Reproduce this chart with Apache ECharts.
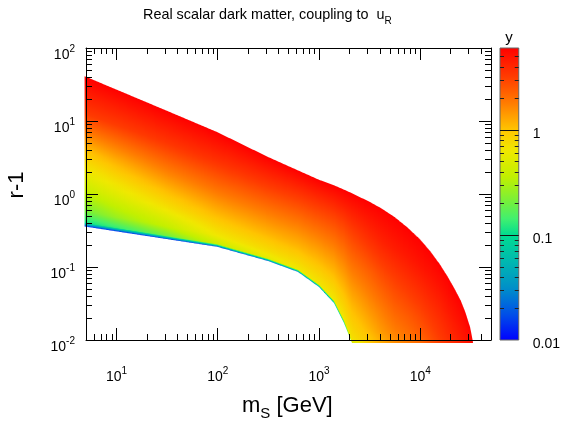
<!DOCTYPE html>
<html><head><meta charset="utf-8">
<script src="https://cdn.jsdelivr.net/npm/echarts@6/dist/echarts.min.js"></script>
<style>html,body{margin:0;padding:0;background:#fff}#c{width:563px;height:421px}</style>
</head><body><div id="c"></div>
<script>
// ---- data ----
// x: log10(m_S / GeV) columns of the allowed region
const massLog  = [0.685, 0.995, 1.499, 1.993, 2.497, 2.793, 3.0, 3.148, 3.247, 3.326, 3.504, 3.62, 3.751, 3.875, 3.998, 4.10, 4.195, 4.27, 4.344, 4.40, 4.443, 4.492, 4.521];
// log10(r-1) of the upper and lower edge of the region at those columns
const upperLog = [1.613, 1.433, 1.139, 0.849, 0.507, 0.323, 0.195, 0.12, 0.06, 0.01, -0.11, -0.20, -0.32, -0.46, -0.62, -0.785, -0.965, -1.13, -1.31, -1.46, -1.61, -1.82, -2.03];
const lowerLog = [-0.445, -0.511, -0.618, -0.723, -0.918, -1.068, -1.274, -1.493, -1.767, -2.04, -2.04, -2.04, -2.04, -2.04, -2.04, -2.04, -2.04, -2.04, -2.04, -2.04, -2.04, -2.04, -2.04];
// positions between lower (0) and upper (1) edge at which the coupling y is read
const fLevels = [0, 0.025, 0.1, 0.25, 0.5, 0.75, 1];
// coupling y per column at those positions
const yFrac = [
  [0.013, 0.11, 0.2, 0.4, 0.98, 3.2, 6.0],
  [0.013, 0.13, 0.27, 0.5, 1.2, 3.2, 6.0],
  [0.014, 0.2, 0.38, 0.71, 1.6, 3.4, 6.0],
  [0.016, 0.4, 0.64, 1.0, 1.95, 3.6, 6.0],
  [0.02, 0.55, 0.74, 1.1, 1.95, 3.45, 6.0],
  [0.025, 0.63, 0.77, 1.12, 1.9, 3.3, 6.0],
  [0.03, 0.66, 0.78, 1.1, 1.86, 3.2, 6.0],
  [0.05, 0.64, 0.77, 1.08, 1.82, 3.12, 6.0],
  [0.08, 0.64, 0.78, 1.08, 1.8, 3.08, 6.0],
  [0.45, 0.7, 0.82, 1.1, 1.85, 3.15, 6.0],
  [0.98, 0.98, 1.15, 1.5, 2.3, 3.8, 6.0],
  [1.25, 1.25, 1.45, 1.8, 2.7, 4.2, 6.0],
  [1.55, 1.55, 1.78, 2.2, 3.1, 4.5, 6.0],
  [1.8, 1.8, 2.05, 2.45, 3.4, 4.7, 6.0],
  [2.1, 2.1, 2.4, 2.8, 3.7, 4.9, 6.0],
  [2.6, 2.6, 2.8, 3.2, 4.0, 5.0, 6.0],
  [3.1, 3.1, 3.3, 3.6, 4.25, 5.1, 6.0],
  [3.5, 3.5, 3.7, 4.0, 4.6, 5.25, 6.0],
  [3.9, 3.9, 4.1, 4.4, 4.9, 5.4, 6.0],
  [4.3, 4.3, 4.5, 4.7, 5.1, 5.5, 6.0],
  [4.7, 4.7, 4.8, 5.0, 5.2, 5.6, 6.0],
  [5.1, 5.1, 5.2, 5.3, 5.5, 5.8, 6.0],
  [5.6, 5.6, 5.6, 5.7, 5.8, 5.9, 6.0]
];

// axes
const xMinMass = 5, xMaxMass = 50000;
const xTickExp = [1, 2, 3, 4];
const yTickExp = [-2, -1, 0, 1, 2];
const cbMinY = 0.01, cbMaxY = 6.0;
const cbTickLog = [-2, -1, 0];
const cbTickLabels = ['0.01', '0.1', '1'];

// colour palette of the z-axis (log10 y -> colour)
const paletteStops = [
  [-2.0, '#0000ff'], [-1.75, '#0050e8'], [-1.5, '#0090c8'], [-1.25, '#00b8b0'],
  [-1.0, '#00dc90'], [-0.85, '#40f070'], [-0.7, '#70f040'], [-0.45, '#c0f000'],
  [-0.2, '#f0e800'], [0.0, '#ffc400'], [0.25, '#ff7c00'], [0.5, '#ff3c00'], [0.78, '#ff0000']
];

// ---- helpers ----
const L10 = Math.log10;
const X_MIN = L10(xMinMass), X_MAX = L10(xMaxMass);
const CB_MIN = L10(cbMinY), CB_MAX = L10(cbMaxY);
const clamp01 = v => Math.min(1, Math.max(0, v));
function hexRgb(h){return [parseInt(h.substr(1,2),16),parseInt(h.substr(3,2),16),parseInt(h.substr(5,2),16)];}
const palRgb = paletteStops.map(p => [p[0], hexRgb(p[1])]);
function logToColor(l){
  const P = palRgb;
  if (l <= P[0][0]) l = P[0][0];
  if (l >= P[P.length-1][0]) l = P[P.length-1][0];
  for (let i = 1; i < P.length; i++) {
    if (l <= P[i][0]) {
      const t = (l - P[i-1][0]) / (P[i][0] - P[i-1][0]);
      const a = P[i-1][1], b = P[i][1];
      return 'rgb(' + Math.round(a[0]+(b[0]-a[0])*t) + ',' + Math.round(a[1]+(b[1]-a[1])*t) + ',' + Math.round(a[2]+(b[2]-a[2])*t) + ')';
    }
  }
  return paletteStops[paletteStops.length-1][1];
}
const lerp = (a, b, t) => a + (b - a) * t;

const GR_TOP = 2.0, GR_BOT = -2.1;
function renderRegion(params, api){
  const i = params.dataIndex, j = i + 1;
  if (j >= massLog.length) return;
  const pA = api.coord([massLog[i], 0])[0], pB = api.coord([massLog[j], 0])[0];
  const yTopPx = api.coord([X_MIN, GR_TOP])[1], yBotPx = api.coord([X_MIN, GR_BOT])[1];
  const children = [];
  // whole-pixel columns whose centre lies in [pA, pB)
  const xStart = (i === 0) ? Math.floor(pA) : Math.ceil(pA - 0.5);
  const xEnd = (j === massLog.length - 1) ? Math.ceil(pB) : Math.ceil(pB - 0.5);
  for (let x = xStart; x < xEnd; x++) {
    const xa = x, xb = x + 1;
    const t0 = (xa - pA) / (pB - pA), t1 = (xb - pA) / (pB - pA);
    const tm = Math.min(1, Math.max(0, (x + 0.5 - pA) / (pB - pA)));
    const m0 = lerp(massLog[i], massLog[j], t0), m1 = lerp(massLog[i], massLog[j], t1);
    let u0 = lerp(upperLog[i], upperLog[j], t0), u1 = lerp(upperLog[i], upperLog[j], t1);
    let d0 = lerp(lowerLog[i], lowerLog[j], t0), d1 = lerp(lowerLog[i], lowerLog[j], t1);
    if (i === 0 && t0 < 0) { u0 = upperLog[0]; d0 = lowerLog[0]; }
    if (j === massLog.length - 1 && t1 > 1) { u1 = upperLog[j]; d1 = lowerLog[j]; }
    const yu0 = api.coord([m0, u0])[1], yu1 = api.coord([m1, u1])[1];
    const yd0 = api.coord([m0, d0])[1], yd1 = api.coord([m1, d1])[1];
    const xl = (i === 0 && x === xStart) ? pA : xa;
    const xr = (j === massLog.length - 1 && x === xEnd - 1) ? pB : xb;
    const loM = lerp(lowerLog[i], lowerLog[j], tm), upM = lerp(upperLog[i], upperLog[j], tm);
    const pts = fLevels.map((f, q) => [loM + f * (upM - loM), lerp(L10(yFrac[i][q]), L10(yFrac[j][q]), tm)]);
    const dense = [];
    for (let p = 0; p < pts.length - 1; p++) {
      for (let s = 0; s < 6; s++) {
        dense.push([lerp(pts[p][0], pts[p+1][0], s/6), lerp(pts[p][1], pts[p+1][1], s/6)]);
      }
    }
    dense.push(pts[pts.length-1]);
    const stops = dense.map(q => ({offset: clamp01((GR_TOP - q[0]) / (GR_TOP - GR_BOT)), color: logToColor(q[1])}))
      .sort((a, b) => a.offset - b.offset);
    const xm = x + 0.5;
    children.push({
      type: 'polygon',
      shape: {points: [[xl, yu0], [xr, yu1], [xr, yd1], [xl, yd0]]},
      style: {fill: {type: 'linear', x: xm, y: yTopPx, x2: xm, y2: yBotPx, global: true, colorStops: stops}}
    });
  }
  return {type: 'group', children: children};
}

function renderColorBar(params, api){
  const tl = api.coord([0, CB_MAX]), br = api.coord([1, CB_MIN]);
  const w = br[0] - tl[0], h = br[1] - tl[1];
  const dense = [];
  for (let q = 0; q <= 120; q++) { const l = lerp(CB_MIN, CB_MAX, q / 120); dense.push({offset: clamp01((CB_MAX - l) / (CB_MAX - CB_MIN)), color: logToColor(l)}); }
  dense.sort((x, y) => x.offset - y.offset);
  const ch = [{type: 'rect', shape: {x: tl[0], y: tl[1], width: w, height: h},
    style: {fill: {type: 'linear', x: 0, y: 0, x2: 0, y2: 1, colorStops: dense}, stroke: '#666', lineWidth: 1}}];
  for (const l of [-1, 0]) {
    const y = Math.round(api.coord([0, l])[1]) + 0.5;
    ch.push({type: 'line', shape: {x1: tl[0], y1: y, x2: br[0], y2: y}, style: {stroke: '#111', lineWidth: 1}});
  }
  for (let dec = -2; dec <= 0; dec++) {
    for (let kk = 2; kk <= 9; kk++) {
      const l = dec + L10(kk);
      if (l >= CB_MAX) continue;
      const y = Math.round(api.coord([0, l])[1]) + 0.5;
      ch.push({type: 'line', shape: {x1: tl[0], y1: y, x2: tl[0] + 4, y2: y}, style: {stroke: '#222', lineWidth: 1}});
      ch.push({type: 'line', shape: {x1: br[0] - 4, y1: y, x2: br[0], y2: y}, style: {stroke: '#222', lineWidth: 1}});
    }
  }
  return {type: 'group', children: ch};
}

// tick positions
const xMinor = [], yMinor = [];
for (let dcd = 0; dcd <= 4; dcd++) for (let kk = 2; kk <= 9; kk++) { const v = dcd + L10(kk); if (v > X_MIN + 0.01 && v < X_MAX - 0.01) xMinor.push(v); }
for (let dcd = -2; dcd <= 1; dcd++) for (let kk = 2; kk <= 9; kk++) yMinor.push(dcd + L10(kk));

const FONT = 'Liberation Sans, Arial, sans-serif';
const supRich = {
  b: {fontSize: 14, lineHeight: 18, verticalAlign: 'bottom', fontFamily: FONT, color: '#000'},
  s: {fontSize: 10, lineHeight: 9, verticalAlign: 'top', fontFamily: FONT, color: '#000'}
};
const powFmt = v => '{b|10}{s|' + Math.round(v) + '}';

function axis(kind, pos, ticks, len, line, label){
  const o = {
    type: 'value', gridIndex: 0, position: pos, z: 5,
    min: kind === 'x' ? X_MIN : -2, max: kind === 'x' ? X_MAX : 2,
    axisLine: {show: line, onZero: false, lineStyle: {color: '#000', width: 1}},
    axisTick: {show: true, inside: true, length: len, customValues: ticks, lineStyle: {color: '#000', width: 1}},
    axisLabel: {show: false},
    splitLine: {show: false}
  };
  if (label) {
    o.axisLabel = kind === 'x'
      ? {show: true, customValues: ticks, formatter: powFmt, rich: supRich, margin: 26, verticalAlign: 'top'}
      : {show: true, customValues: ticks, formatter: powFmt, rich: supRich, margin: 11, padding: [10, 0, 0, 0]};
  }
  return o;
}

const chart = echarts.init(document.getElementById('c'), null, {renderer: 'canvas'});
chart.setOption({
  animation: false,
  backgroundColor: '#fff',
  grid: [
    {left: 86, top: 48, width: 405, height: 292},
    {left: 500, top: 48, width: 20, height: 292}
  ],
  xAxis: [
    axis('x', 'bottom', xTickExp, 12, true, true),
    axis('x', 'bottom', xMinor, 6, false, false),
    axis('x', 'top', xTickExp, 12, true, false),
    axis('x', 'top', xMinor, 6, false, false),
    {type: 'value', gridIndex: 1, min: 0, max: 1, show: false}
  ],
  yAxis: [
    axis('y', 'left', yTickExp, 12, true, true),
    axis('y', 'left', yMinor, 6, false, false),
    axis('y', 'right', yTickExp, 12, true, false),
    axis('y', 'right', yMinor, 6, false, false),
    {type: 'value', gridIndex: 1, position: 'right', min: CB_MIN, max: CB_MAX,
     axisLine: {show: false, onZero: false}, axisTick: {show: false}, splitLine: {show: false},
     axisLabel: {show: true, customValues: cbTickLog, margin: 14,
       formatter: v => '{v|' + cbTickLabels[cbTickLog.indexOf(Math.round(v))] + '}',
       rich: {v: {fontSize: 14, lineHeight: 14, padding: [8, 0, 0, 0], fontFamily: FONT, color: '#000'}}}}
  ],
  graphic: [
    {type: 'text', left: 143, top: 8, style: {
      text: '{a|Real scalar dark matter, coupling to  u}{r|R}',
      rich: {a: {fontSize: 14.4, lineHeight: 18, verticalAlign: 'top', fontFamily: FONT, fill: '#000'},
             r: {fontSize: 10, lineHeight: 10, verticalAlign: 'bottom', fontFamily: FONT, fill: '#000'}}}},
    {type: 'text', left: 242, top: 395, style: {
      text: '{a|m}{s|S}{a| [GeV]}',
      rich: {a: {fontSize: 22, lineHeight: 26, verticalAlign: 'top', fontFamily: FONT, fill: '#000'},
             s: {fontSize: 15, lineHeight: 8, verticalAlign: 'bottom', fontFamily: FONT, fill: '#000'}}}},
    {type: 'text', x: 17, y: 185, rotation: Math.PI / 2, style: {
      text: 'r-1', x: 0, y: 0, align: 'center', verticalAlign: 'middle', fontSize: 22, fontFamily: FONT, fill: '#000'}},
    {type: 'text', x: 509, y: 38, style: {
      text: 'y', x: 0, y: 0, align: 'center', verticalAlign: 'middle', fontSize: 15, fontFamily: FONT, fill: '#000'}}
  ],
  series: [
    {type: 'custom', xAxisIndex: 0, yAxisIndex: 0, z: 1, silent: true, clip: false,
     renderItem: renderRegion,
     data: massLog.slice(0, -1).map((m, i) => [m, upperLog[i], lowerLog[i]])},
    {type: 'custom', xAxisIndex: 4, yAxisIndex: 4, z: 1, silent: true,
     renderItem: renderColorBar, data: [[0.5, 0]]}
  ]
});
</script>
</body></html>
